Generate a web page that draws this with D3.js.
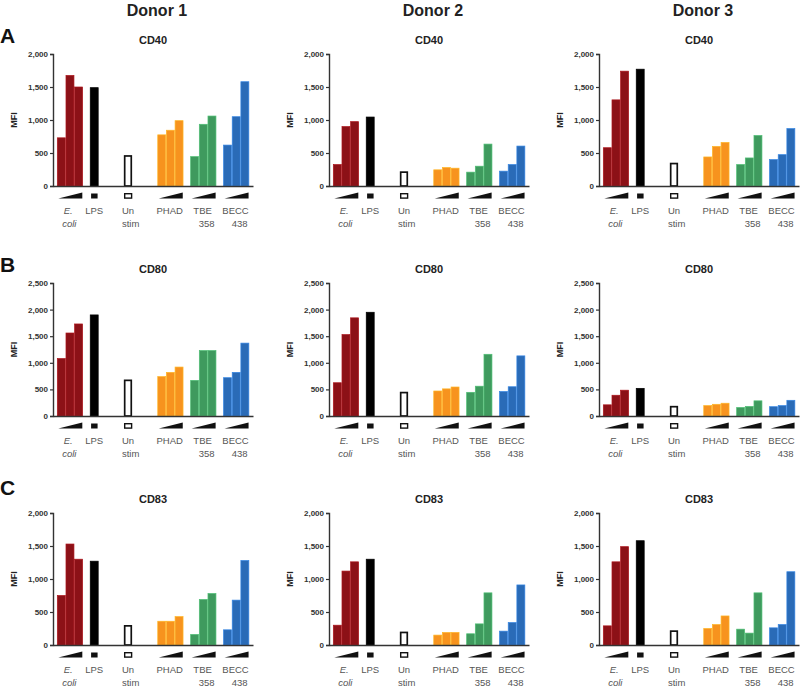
<!DOCTYPE html>
<html>
<head>
<meta charset="utf-8">
<script src="https://cdn.jsdelivr.net/npm/d3@7"></script>
<style>
  html, body { margin: 0; padding: 0; background: #fff; }
  svg { display: block; font-family: "Liberation Sans", Arial, Helvetica, sans-serif; }
</style>
</head>
<body>
<svg id="chart" width="800" height="690"></svg>
<script>
// ---------------- DATA ----------------
const donors = ["Donor 1", "Donor 2", "Donor 3"];
const markers = ["CD40", "CD80", "CD83"];
const panelLetters = ["A", "B", "C"];
const groups = ["E. coli", "LPS", "Unstim", "PHAD", "TBE 358", "BECC 438"];
const groupCounts = [3, 1, 1, 3, 3, 3];
const groupColors = ["#8c1117", "#000000", "#ffffff", "#f7931e", "#3f9a5e", "#2a6bb7"];
const labelLine1 = ["E.", "LPS", "Un", "PHAD", "TBE", "BECC"];
const labelLine2 = ["coli", "", "stim", "", "358", "438"];
const yTicksCD40 = [0, 500, 1000, 1500, 2000];
const yTicksCD80 = [0, 500, 1000, 1500, 2000, 2500];
const yTicksCD83 = [0, 500, 1000, 1500, 2000];

// values order: E. coli x3, LPS, Unstim, PHAD x3, TBE 358 x3, BECC 438 x3
const cd40Donor1 = [730, 1675, 1500, 1490, 455, 775, 845, 990, 445, 935, 1060, 620, 1050, 1580];
const cd40Donor2 = [325, 900, 975, 1045, 210, 245, 280, 270, 210, 300, 635, 225, 325, 605];
const cd40Donor3 = [580, 1305, 1740, 1770, 340, 440, 600, 660, 325, 425, 765, 400, 475, 870];
const cd80Donor1 = [1080, 1560, 1730, 1900, 670, 740, 820, 920, 670, 1230, 1230, 720, 820, 1370];
const cd80Donor2 = [625, 1530, 1845, 1950, 440, 470, 510, 545, 445, 560, 1160, 460, 550, 1130];
const cd80Donor3 = [210, 390, 485, 520, 175, 195, 220, 240, 160, 180, 285, 175, 195, 295];
const cd83Donor1 = [750, 1530, 1300, 1270, 290, 360, 360, 430, 160, 690, 780, 230, 680, 1280];
const cd83Donor2 = [300, 1120, 1260, 1300, 190, 150, 190, 190, 170, 320, 790, 210, 340, 910];
const cd83Donor3 = [290, 1260, 1490, 1580, 210, 250, 310, 440, 240, 180, 790, 260, 310, 1110];

const rowValues = [
  [cd40Donor1, cd40Donor2, cd40Donor3],
  [cd80Donor1, cd80Donor2, cd80Donor3],
  [cd83Donor1, cd83Donor2, cd83Donor3]
];
const rowTicks = [yTicksCD40, yTicksCD80, yTicksCD83];

// ---------------- LAYOUT ----------------
const svg = d3.select("#chart");
const axisX = [53, 329, 599];
const plotW = 200;
const rowBottom = [186, 416, 645];
const rowTop = [54, 283, 513];
const gapsBefore = [0.5, 0.8, 2.9, 2.9, 0.8, 0.8];
const unitsTotal = 23.1;
const barFrac = 0.92;

const groupStart = [];
let cursor = 0;
groupCounts.forEach((c, i) => { cursor += gapsBefore[i]; groupStart.push(cursor); cursor += c; });

const barDefs = [];
groupCounts.forEach((c, gi) => {
  for (let k = 0; k < c; k++) barDefs.push({ group: gi, slot: groupStart[gi] + k });
});

function lighter(col) {
  if (col === "#000000" || col === "#ffffff") return col;
  return d3.color(col).brighter(0.6).formatHex();
}

donors.forEach((d, ci) => {
  svg.append("text")
    .attr("x", axisX[ci] + plotW / 2 + 4)
    .attr("y", 16)
    .attr("text-anchor", "middle")
    .attr("font-size", 16)
    .attr("font-weight", "bold")
    .attr("fill", "#222")
    .text(d);
});

markers.forEach((m, ri) => {
  const ticks = rowTicks[ri];
  const y = d3.scaleLinear().domain([0, d3.max(ticks)]).range([rowBottom[ri], rowTop[ri]]);

  svg.append("text")
    .attr("x", 0)
    .attr("y", rowTop[ri] - 11 + (ri === 2 ? -7 : 0))
    .attr("font-size", 21)
    .attr("font-weight", "bold")
    .attr("fill", "#111")
    .text(panelLetters[ri]);

  donors.forEach((d, ci) => {
    const vals = rowValues[ri][ci];
    const x = d3.scaleLinear().domain([0, unitsTotal]).range([axisX[ci], axisX[ci] + plotW]);
    const unit = x(1) - x(0);
    const g = svg.append("g");

    g.append("text")
      .attr("x", x(unitsTotal / 2))
      .attr("y", rowTop[ri] - 10)
      .attr("text-anchor", "middle")
      .attr("font-size", 11)
      .attr("font-weight", "bold")
      .attr("fill", "#222")
      .text(m);

    g.selectAll("rect.bar")
      .data(barDefs.map((b, i) => ({ ...b, v: vals[i] })))
      .join("rect")
      .attr("class", "bar")
      .attr("x", b => x(b.slot) + (b.group === 2 ? unit * 0.08 : 0))
      .attr("width", b => b.group === 2 ? unit * barFrac - unit * 0.16 : unit * barFrac)
      .attr("y", b => y(b.v))
      .attr("height", b => y(0) - y(b.v))
      .attr("fill", b => groupColors[b.group])
      .attr("stroke", b => b.group === 2 ? "#111" : lighter(groupColors[b.group]))
      .attr("stroke-width", b => b.group === 2 ? 1.7 : 0.7);

    const yAxis = d3.axisLeft(y).tickValues(ticks).tickSize(3).tickPadding(2)
      .tickFormat(d3.format(","));
    const ya = g.append("g").attr("transform", `translate(${axisX[ci]},0)`).call(yAxis);
    ya.select(".domain").attr("stroke", "#333").attr("stroke-width", 1.4);
    ya.selectAll(".tick line").attr("stroke", "#333").attr("stroke-width", 1.2);
    ya.selectAll(".tick text").attr("font-size", 8).attr("font-weight", "bold")
      .attr("fill", "#333").attr("font-family", "Liberation Sans, Arial, sans-serif");

    const xa = d3.axisBottom(x).tickValues([]).tickSize(0).tickSizeOuter(0);
    const xg = g.append("g").attr("transform", `translate(0,${rowBottom[ri]})`).call(xa);
    xg.select(".domain").attr("stroke", "#333").attr("stroke-width", 1.4);

    g.append("text")
      .attr("transform", `translate(${axisX[ci] - 36},${(rowTop[ri] + rowBottom[ri]) / 2}) rotate(-90)`)
      .attr("text-anchor", "middle")
      .attr("font-size", 9)
      .attr("font-weight", "bold")
      .attr("fill", "#222")
      .text("MFI");

    const ind = g.append("g");
    const yb = rowBottom[ri] + 12.5;
    const yt = rowBottom[ri] + 6.5;
    groups.forEach((name, gi) => {
      const s = groupStart[gi], c = groupCounts[gi];
      if (c === 3) {
        const x0 = x(s) + 1, x1 = x(s + c) - 1;
        ind.append("path")
          .attr("d", `M${x0},${yb}L${x1},${yt}L${x1},${yb}Z`)
          .attr("fill", "#111");
      } else if (gi === 1) {
        ind.append("rect")
          .attr("x", x(s + 0.1)).attr("width", unit * 0.75)
          .attr("y", yt + 1).attr("height", 5)
          .attr("fill", "#111");
      } else {
        ind.append("rect")
          .attr("x", x(s + 0.08)).attr("width", unit * 0.8)
          .attr("y", yt + 1.2).attr("height", 4.4)
          .attr("fill", "#fff").attr("stroke", "#111").attr("stroke-width", 1.4);
      }
      const cx = x(s + (c * barFrac) / 2);
      const t1 = ind.append("text")
        .attr("y", rowBottom[ri] + 28)
        .attr("font-size", 9.5)
        .attr("fill", "#555");
      if (gi === 0) {
        t1.attr("x", cx - 1).attr("text-anchor", "middle").attr("font-style", "italic").text(labelLine1[gi]);
      } else if (gi === 2) {
        t1.attr("x", x(s) - 2).attr("text-anchor", "start").text(labelLine1[gi]);
      } else {
        t1.attr("x", cx).attr("text-anchor", "middle").text(labelLine1[gi]);
      }
      if (labelLine2[gi]) {
        const t2 = ind.append("text")
          .attr("y", rowBottom[ri] + 41)
          .attr("font-size", 9.5)
          .attr("fill", "#555")
          .text(labelLine2[gi]);
        if (gi === 0) t2.attr("x", cx).attr("text-anchor", "middle").attr("font-style", "italic");
        else if (gi === 2) t2.attr("x", x(s) - 2).attr("text-anchor", "start");
        else t2.attr("x", x(s + c) - 2).attr("text-anchor", "end");
      }
    });
  });
});
</script>
</body>
</html>
